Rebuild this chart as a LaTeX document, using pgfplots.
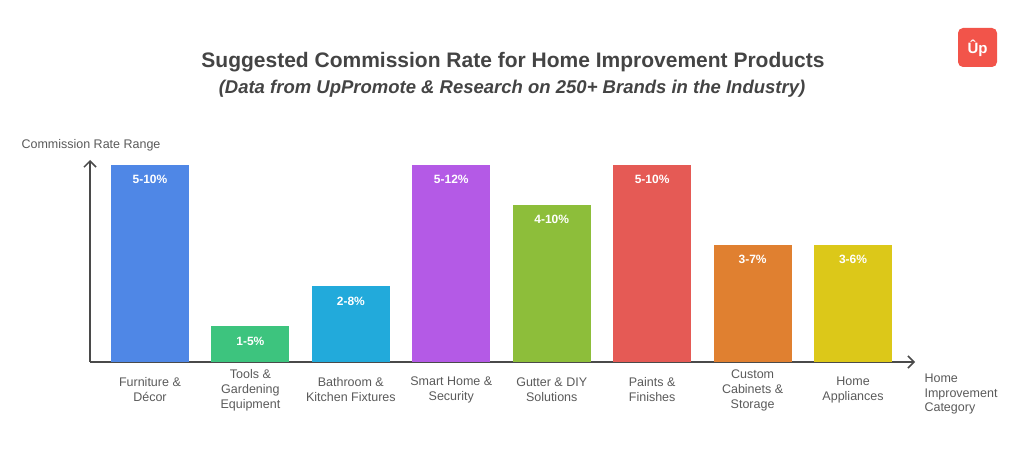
\documentclass[border=0pt]{standalone}
\usepackage{pgfplots}
\pgfplotsset{compat=1.18}
\usetikzlibrary{arrows.meta}
\usepackage{fontspec}
\setmainfont{Liberation Sans}

\definecolor{titlegray}{HTML}{444444}
\definecolor{labelgray}{HTML}{5A5A5A}
\definecolor{axisgray}{HTML}{4A4A4A}
\definecolor{logored}{HTML}{F2544A}
\definecolor{cA}{HTML}{4F87E6}
\definecolor{cB}{HTML}{3DC47E}
\definecolor{cC}{HTML}{22AADB}
\definecolor{cD}{HTML}{B45AE6}
\definecolor{cE}{HTML}{8DBE3A}
\definecolor{cF}{HTML}{E55A55}
\definecolor{cG}{HTML}{E08030}
\definecolor{cH}{HTML}{DCC819}

\begin{document}
\begin{tikzpicture}[x=1pt,y=1pt]
\useasboundingbox (0,0) rectangle (1024,468);

% titles
\node[text=titlegray, font=\fontsize{21}{25}\selectfont\bfseries] at (513,406)
  {Suggested Commission Rate for Home Improvement Products};
\node[text=titlegray, font=\fontsize{18.5}{22}\selectfont\bfseries\itshape] at (512,379)
  {(Data from UpPromote \& Research on 250+ Brands in the Industry)};

% logo
\fill[logored, rounded corners=5pt] (958,401) rectangle (997,440);
\node[text=white, font=\fontsize{15}{18}\selectfont\bfseries] at (977.5,420) {Ûp};

% axis labels
\node[anchor=west, text=labelgray, font=\fontsize{12.5}{15}\selectfont] at (18,323)
  {Commission Rate Range};
\node[anchor=west, align=left, text=labelgray, font=\fontsize{12.5}{14.5}\selectfont] at (921,74)
  {Home\\Improvement\\Category};

\begin{axis}[
  at={(90pt,106pt)}, anchor=south west,
  width=825pt, height=202pt, scale only axis,
  xmin=-0.597, xmax=7.617, ymin=0, ymax=5.05,
  axis x line=bottom, axis y line=left,
  axis line style={draw=axisgray, line width=1.5pt, -{Straight Barb[length=6pt,width=12pt]}},
  ytick=\empty,
  xtick={0,...,7},
  xticklabels={{Furniture \&\\Décor},{Tools \&\\Gardening\\Equipment},{Bathroom \&\\Kitchen Fixtures},
    {Smart Home \&\\Security},{Gutter \& DIY\\Solutions},{Paints \&\\Finishes},
    {Custom\\Cabinets \&\\Storage},{Home\\Appliances}},
  major tick length=0pt,
  xticklabel style={anchor=center, yshift=-28pt, align=center, text=labelgray,
    font=\fontsize{12.5}{15}\selectfont},
  bar width=0.777,
  point meta=explicit symbolic,
  nodes near coords,
  nodes near coords style={anchor=center, yshift=-15pt, text=white,
    font=\fontsize{12}{14}\selectfont\bfseries},
]
\addplot[ybar, bar shift=0pt, fill=cA, draw=none] coordinates {(0,4.93) [5-10\%]};
\addplot[ybar, bar shift=0pt, fill=cB, draw=none] coordinates {(1,0.90) [1-5\%]};
\addplot[ybar, bar shift=0pt, fill=cC, draw=none] coordinates {(2,1.90) [2-8\%]};
\addplot[ybar, bar shift=0pt, fill=cD, draw=none] coordinates {(3,4.93) [5-12\%]};
\addplot[ybar, bar shift=0pt, fill=cE, draw=none] coordinates {(4,3.93) [4-10\%]};
\addplot[ybar, bar shift=0pt, fill=cF, draw=none] coordinates {(5,4.93) [5-10\%]};
\addplot[ybar, bar shift=0pt, fill=cG, draw=none] coordinates {(6,2.93) [3-7\%]};
\addplot[ybar, bar shift=0pt, fill=cH, draw=none] coordinates {(7,2.93) [3-6\%]};
\end{axis}
\end{tikzpicture}
\end{document}
